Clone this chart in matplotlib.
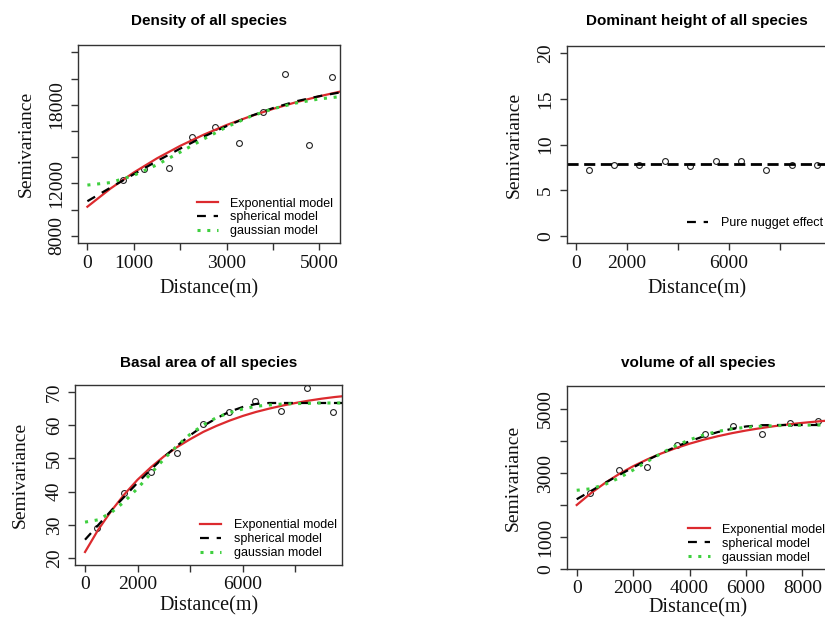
import matplotlib
matplotlib.use("Agg")
import matplotlib.pyplot as plt
from matplotlib.lines import Line2D

SERIF = ["Liberation Serif", "DejaVu Serif"]
SANS = ["Liberation Sans", "DejaVu Sans"]

# ---------------- data ----------------
# Density of all species
dens_lag = [770, 1230, 1760, 2250, 2760, 3260, 3780, 4260, 4770, 5270]
dens_gamma = [12250, 13090, 13170, 15580, 16270, 15120, 17480, 20370, 14910, 20120]
dens_h = [0, 500, 1000, 1500, 2000, 2500, 3000, 3500, 4000, 4500, 5000, 5500]
dens_exp = [10230, 11620, 12840, 13920, 14870, 15710, 16460, 17110, 17690, 18200, 18650, 19050]
dens_sph = [10650, 11690, 12710, 13710, 14660, 15560, 16380, 17120, 17750, 18270, 18660, 18980]
dens_gau = [11880, 12070, 12620, 13430, 14390, 15380, 16310, 17090, 17700, 18140, 18450, 18640]

# Dominant height of all species
ht_lag = [520, 1510, 2500, 3500, 4490, 5490, 6480, 7460, 8470, 9460]
ht_gamma = [7.17, 7.72, 7.79, 8.20, 7.68, 8.15, 8.15, 7.22, 7.79, 7.79]
ht_nugget = 7.9

# Basal area of all species
ba_lag = [440, 1480, 2500, 3490, 4480, 5480, 6450, 7440, 8430, 9420]
ba_gamma = [29.1, 39.5, 45.8, 51.5, 60.5, 63.9, 67.3, 64.4, 71.2, 64.0]
ba_h = [0, 500, 1000, 1500, 2000, 2500, 3000, 3500, 4000, 4500, 5000,
        5500, 6000, 6500, 7000, 7500, 8000, 8500, 9000, 9500, 10000]
ba_exp = [21.8, 28.5, 34.2, 39.2, 43.6, 47.3, 50.6, 53.4, 55.8, 58.0, 59.8,
          61.4, 62.8, 64.0, 65.0, 65.9, 66.7, 67.4, 68.0, 68.5, 68.9]
ba_sph = [25.5, 29.9, 34.3, 38.5, 42.7, 46.6, 50.4, 53.8, 57.0, 59.8, 62.1,
          64.1, 65.5, 66.4, 66.7, 66.7, 66.7, 66.7, 66.7, 66.7, 66.7]
ba_gau = [30.8, 31.5, 33.7, 37.0, 41.0, 45.4, 49.8, 53.8, 57.3, 60.1, 62.3,
          63.8, 64.9, 65.7, 66.1, 66.4, 66.5, 66.6, 66.7, 66.7, 66.7]

# Volume of all species
vol_lag = [470, 1510, 2500, 3550, 4560, 5550, 6570, 7560, 8570]
vol_gamma = [2380, 3090, 3200, 3870, 4210, 4470, 4230, 4550, 4630]
vol_h = [0, 500, 1000, 1500, 2000, 2500, 3000, 3500, 4000, 4500,
         5000, 5500, 6000, 6500, 7000, 7500, 8000, 8500, 9000]
vol_exp = [2000, 2367, 2686, 2967, 3211, 3424, 3611, 3774, 3916, 4041,
           4149, 4244, 4327, 4399, 4463, 4518, 4566, 4608, 4645]
vol_sph = [2180, 2435, 2688, 2935, 3174, 3402, 3616, 3813, 3990, 4147,
           4278, 4381, 4454, 4493, 4500, 4500, 4500, 4500, 4500]
vol_gau = [2460, 2507, 2641, 2844, 3093, 3358, 3615, 3845, 4037, 4188,
           4300, 4377, 4428, 4460, 4478, 4489, 4495, 4500, 4500]

model_labels = ["Exponential model", "spherical model", "gaussian model"]

# ---------------- styles ----------------
W, H = 825, 618
AX_COL = "#333333"
RED = "#dc2a2e"
GREEN = "#3fcf3f"
STY_EXP = dict(color=RED, lw=1.6, linestyle="-")
STY_SPH = dict(color="black", lw=1.6, linestyle=(0, (4, 3.5)))
STY_GAU = dict(color=GREEN, lw=2.2, linestyle=(0, (1, 2.2)))
PT = dict(marker="o", ms=4.2, mfc="none", mec="#222222", mew=0.8, ls="none")

fig = plt.figure(figsize=(W / 100, H / 100), dpi=100)
fig.patch.set_facecolor("white")


def place(l, t, r, b):
    return fig.add_axes([l / W, 1 - b / H, (r - l) / W, (b - t) / H])


def style(ax, title, box, xticks, xshow, yticks, yshow,
          title_pad=15, xlab_off=46, ylab_off=51):
    l, t, r, b = box
    for s in ax.spines.values():
        s.set_color(AX_COL)
        s.set_linewidth(1.0)
    ax.set_xticks(xticks)
    ax.set_xticklabels([str(v) if v in xshow else "" for v in xticks])
    ax.set_yticks(yticks)
    ax.set_yticklabels([str(v) if v in yshow else "" for v in yticks])
    ax.tick_params(direction="out", length=5, width=1.0, color=AX_COL,
                   labelsize=14, labelcolor="#111111")
    ax.tick_params(axis="x", pad=3.2)
    ax.tick_params(axis="y", pad=4, labelrotation=90)
    for lab in ax.get_xticklabels() + ax.get_yticklabels():
        lab.set_fontfamily(SERIF)
    for lab in ax.get_yticklabels():
        lab.set_va("center")
    ax.set_xlabel("Distance(m)", fontsize=14.5, family=SERIF, color="#111111")
    ax.set_ylabel("Semivariance", fontsize=14, family=SERIF, color="#111111")
    hpx, wpx = b - t, r - l
    ax.xaxis.set_label_coords(0.5, -xlab_off / hpx)
    ax.xaxis.label.set_va("center")
    ax.yaxis.set_label_coords(-ylab_off / wpx, 0.5)
    ax.yaxis.label.set_va("center")
    ax.set_title(title, fontsize=11, fontweight="bold", family=SANS, pad=title_pad)


def legend(ax, handles, labels, anchor):
    ax.legend(handles, labels, loc="lower right", bbox_to_anchor=anchor,
              frameon=False, prop={"family": SANS, "size": 9},
              handlelength=1.7, handletextpad=1.0, labelspacing=0.15,
              borderaxespad=0, borderpad=0)


def model_handles():
    return [Line2D([], [], **STY_EXP), Line2D([], [], **STY_SPH),
            Line2D([], [], **STY_GAU)]


# ---------------- Density ----------------
box1 = (77.7, 45, 340, 243.3)
ax1 = place(*box1)
ax1.plot(dens_lag, dens_gamma, **PT)
ax1.plot(dens_h, dens_exp, **STY_EXP)
ax1.plot(dens_h, dens_sph, **STY_SPH)
ax1.plot(dens_h, dens_gau, **STY_GAU)
ax1.set_xlim(-209, 5443)
ax1.set_ylim(7440, 22560)
style(ax1, "Density of all species", box1,
      [0, 1000, 2000, 3000, 4000, 5000], [0, 1000, 3000, 5000],
      [8000, 10000, 12000, 14000, 16000, 18000, 20000, 22000], [8000, 12000, 18000],
      title_pad=14.5, xlab_off=46, ylab_off=51)
legend(ax1, model_handles(), model_labels, (0.975, 0.03))

# ---------------- Dominant height ----------------
box2 = (566.7, 45.7, 827, 243.3)
ax2 = place(*box2)
ax2.plot(ht_lag, ht_gamma, **PT)
ax2.axhline(ht_nugget, color="black", lw=2.0, linestyle=(0, (4, 2)))
ax2.set_xlim(-355, 9855)
ax2.set_ylim(-0.8, 20.8)
style(ax2, "Dominant height of all species", box2,
      [0, 2000, 4000, 6000, 8000], [0, 2000, 6000],
      [0, 5, 10, 15, 20], [0, 5, 10, 15, 20],
      title_pad=15, xlab_off=46, ylab_off=52)
legend(ax2, [Line2D([], [], color="black", lw=1.6, linestyle=(0, (4, 3.5)))],
       ["Pure nugget effect"], (0.985, 0.07))

# ---------------- Basal area ----------------
box3 = (75.3, 385.4, 342.3, 564.6)
ax3 = place(*box3)
ax3.plot(ba_lag, ba_gamma, **PT)
ax3.plot(ba_h, ba_exp, **STY_EXP)
ax3.plot(ba_h, ba_sph, **STY_SPH)
ax3.plot(ba_h, ba_gau, **STY_GAU)
ax3.set_xlim(-370, 9783)
ax3.set_ylim(18, 72)
style(ax3, "Basal area of all species", box3,
      [0, 2000, 4000, 6000, 8000], [0, 2000, 6000],
      [20, 30, 40, 50, 60, 70], [20, 30, 40, 50, 60, 70],
      title_pad=13.5, xlab_off=41, ylab_off=55)
legend(ax3, model_handles(), model_labels, (0.98, 0.03))

# ---------------- Volume ----------------
box4 = (566.7, 386, 829, 569)
ax4 = place(*box4)
ax4.plot(vol_lag, vol_gamma, **PT)
ax4.plot(vol_h, vol_exp, **STY_EXP)
ax4.plot(vol_h, vol_sph, **STY_SPH)
ax4.plot(vol_h, vol_gau, **STY_GAU)
ax4.set_xlim(-355, 8947)
ax4.set_ylim(0, 5719)
style(ax4, "volume of all species", box4,
      [0, 2000, 4000, 6000, 8000], [0, 2000, 4000, 6000, 8000],
      [0, 1000, 2000, 3000, 4000, 5000], [0, 1000, 3000, 5000],
      title_pad=13.5, xlab_off=39, ylab_off=53)
legend(ax4, model_handles(), model_labels, (0.985, 0.03))

fig.savefig("out.png", dpi=100, facecolor="white")
